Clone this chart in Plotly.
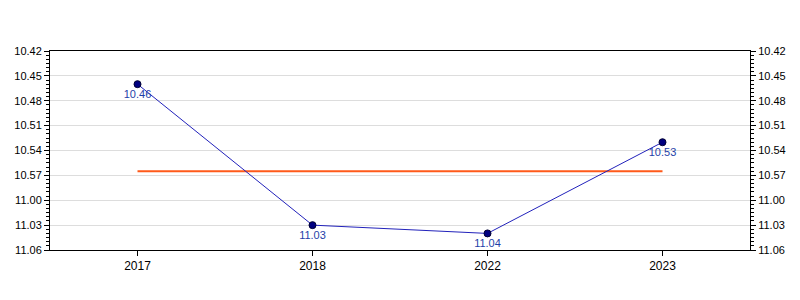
import plotly.graph_objects as go

years = ["2017", "2018", "2022", "2023"]
times = ["10.46", "11.03", "11.04", "10.53"]
tick_labels = ["10.42", "10.45", "10.48", "10.51", "10.54", "10.57", "11.00", "11.03", "11.06"]


def to_sec(s):
    m, sec = s.split(".")
    return int(m) * 60 + int(sec)


secs = [to_sec(t) for t in times]
tick_secs = [to_sec(t) for t in tick_labels]
avg = sum(secs) / len(secs)

fig = go.Figure()
fig.add_trace(go.Scatter(
    x=years, y=[avg] * len(years), mode="lines",
    line=dict(color="#ff5a1a", width=2), hoverinfo="skip", showlegend=False))
fig.add_trace(go.Scatter(
    x=years, y=secs, mode="lines+markers+text",
    text=times, textposition="bottom center",
    textfont=dict(color="#1f3fa8", size=11, family="Liberation Sans, Arial"),
    line=dict(color="#2222bb", width=1),
    marker=dict(color="#000080", size=7, line=dict(color="#000033", width=1)),
    showlegend=False))

minor_vals = [tick_secs[0] + i * 0.5 for i in range(int((tick_secs[-1] - tick_secs[0]) * 2) + 1)]

yax = dict(
    range=[tick_secs[-1], tick_secs[0]],
    tickmode="array", tickvals=tick_secs, ticktext=tick_labels,
    showgrid=True, gridcolor="#dddddd", gridwidth=1,
    ticks="outside", ticklen=5, tickcolor="black",
    showline=True, linecolor="black", linewidth=1,
    tickfont=dict(size=11, color="black", family="Liberation Sans, Arial"),
    minor=dict(tickmode="array", tickvals=minor_vals, ticks="outside", ticklen=3, tickcolor="black", showgrid=False),
    zeroline=False,
)
fig.update_layout(
    width=800, height=300,
    margin=dict(l=50, r=50, t=51, b=50),
    paper_bgcolor="white", plot_bgcolor="white",
    xaxis=dict(
        type="category", range=[-0.5, 3.5],
        showgrid=False, ticks="outside", ticklen=5, tickcolor="black",
        showline=True, linecolor="black", linewidth=1, mirror=True,
        tickfont=dict(size=12, color="black", family="Liberation Sans, Arial"),
    ),
    yaxis=yax,
    yaxis2=dict(yax, overlaying="y", side="right", showgrid=False),
)
# invisible trace to activate right axis
fig.add_trace(go.Scatter(x=years, y=secs, yaxis="y2", mode="markers",
                         marker=dict(opacity=0), hoverinfo="skip", showlegend=False))
fig.write_html("out.html")
